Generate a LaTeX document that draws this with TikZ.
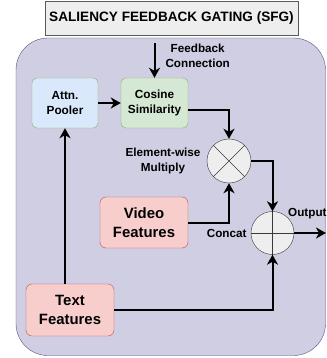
\documentclass[tikz,border=0pt]{standalone}
\usepackage{fontspec}
\setmainfont{Liberation Sans}
\usetikzlibrary{arrows.meta}
\definecolor{panelfill}{HTML}{D0CEE2}
\definecolor{panelline}{HTML}{56517E}
\definecolor{bluefill}{HTML}{DAE8FC}
\definecolor{greenfill}{HTML}{D5E8D4}
\definecolor{greenline}{HTML}{82B366}
\definecolor{redfill}{HTML}{F8CECC}
\definecolor{redline}{HTML}{B85450}
\definecolor{opfill}{HTML}{EEEEEE}
\definecolor{opline}{HTML}{36393D}
\begin{document}
\begin{tikzpicture}[x=1pt,y=-1pt,
  arr/.style={line width=2pt,-{Stealth[length=10pt,width=11pt,inset=3pt]}},
  smallbox/.style={draw=greenline,rounded corners=5pt,align=center,font=\fontsize{11.8}{14.5}\selectfont\bfseries},
  featbox/.style={draw=redline,fill=redfill,rounded corners=6pt,align=center,minimum width=88pt,minimum height=51pt,font=\fontsize{14.9}{19}\selectfont\bfseries},
  opcirc/.style={circle,draw=opline,fill=opfill,minimum size=43pt,inner sep=0pt},
  lbl/.style={align=center,font=\fontsize{11.7}{14.5}\selectfont\bfseries}]
\useasboundingbox (0,0) rectangle (326,358);

% Title and panel
\node[draw=black!65,fill=opfill,minimum width=253pt,minimum height=34pt,font=\fontsize{13.6}{16}\selectfont\bfseries] (sfg) at (171.5,17.8) {SALIENCY FEEDBACK GATING (SFG)};
\draw[draw=panelline,fill=panelfill,rounded corners=32pt] (16,38) rectangle (325.5,355.5);

% Top row: pooler and similarity
\node[smallbox,fill=bluefill,minimum width=66pt,minimum height=50pt] (attn) at (65,103) {Attn.\\Pooler};
\node[smallbox,fill=greenfill,minimum width=67pt,minimum height=50pt] (cos) at (154.5,103) {Cosine\\Similarity};
\coordinate (fb) at (154.5,43);
\node[lbl,anchor=west] (fblabel) at (162,56) {Feedback\\Connection};

% Operators
\node[opcirc,minimum size=44pt] (mult) at (229,161) {};
\draw[opline] (mult.north east) -- (mult.south west) (mult.north west) -- (mult.south east);
\node[lbl] (multlabel) at (163,161) {Element-wise\\Multiply};
\node[opcirc] (concat) at (272.5,233) {};
\draw[opline] (concat.north) -- (concat.south) (concat.west) -- (concat.east);
\node[lbl,anchor=east] (concatlabel) at (250,233) {Concat};
\node[lbl,anchor=west,inner sep=1pt] (outlabel) at (287,214) {Output};
\coordinate (out) at (326,233);

% Inputs
\node[featbox] (video) at (144,222.5) {Video\\Features};
\node[featbox,minimum height=52pt] (text) at (70,310) {Text\\Features};

% Connections
\draw[arr] (fb) -- (cos.north);
\draw[arr] (attn) -- (cos);
\draw[arr] ([yshift=-7pt]cos.east) -| (mult.north);
\draw[arr] (mult.east) -| (concat.north);
\draw[arr] (video.east) -| (mult.south);
\draw[arr] (text.north -| attn.south) -- (attn.south);
\draw[arr] (text.east) -| (concat.south);
\draw[arr] (concat.east) -- (out);
\end{tikzpicture}
\end{document}
